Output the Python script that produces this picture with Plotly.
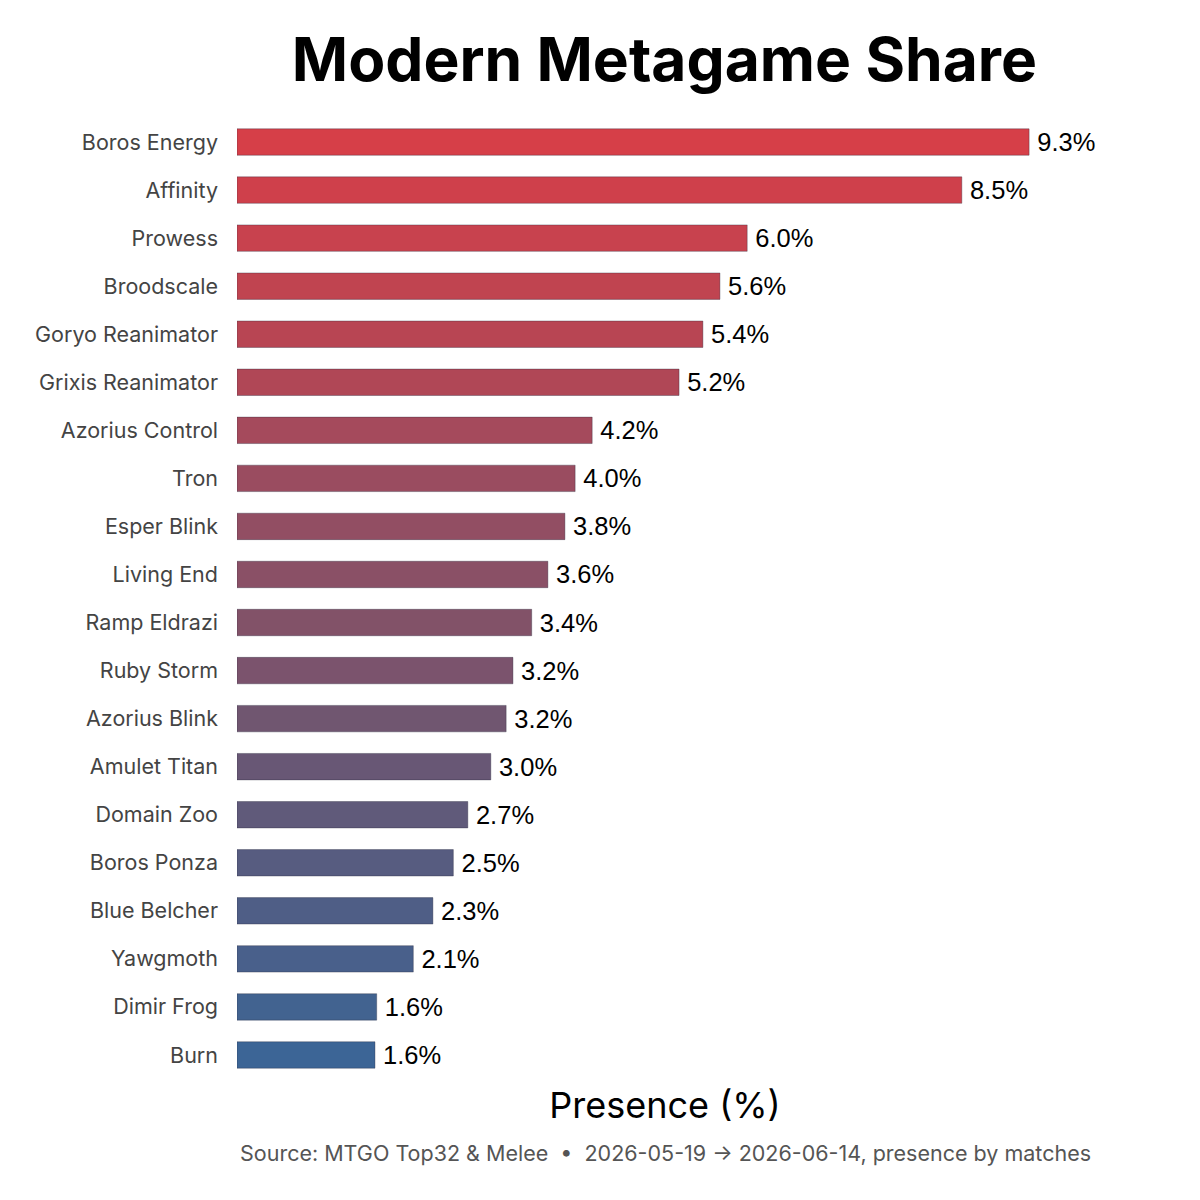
import plotly.graph_objects as go

# deck names and presence share (%)
decks = [
    "Boros Energy", "Affinity", "Prowess", "Broodscale", "Goryo Reanimator",
    "Grixis Reanimator", "Azorius Control", "Tron", "Esper Blink", "Living End",
    "Ramp Eldrazi", "Ruby Storm", "Azorius Blink", "Amulet Titan", "Domain Zoo",
    "Boros Ponza", "Blue Belcher", "Yawgmoth", "Dimir Frog", "Burn",
]
presence = [
    9.30, 8.51, 5.99, 5.67, 5.47,
    5.19, 4.17, 3.97, 3.85, 3.65,
    3.46, 3.24, 3.16, 2.98, 2.71,
    2.54, 2.30, 2.07, 1.64, 1.62,
]
labels = ["9.3%", "8.5%", "6.0%", "5.6%", "5.4%",
          "5.2%", "4.2%", "4.0%", "3.8%", "3.6%",
          "3.4%", "3.2%", "3.2%", "3.0%", "2.7%",
          "2.5%", "2.3%", "2.1%", "1.6%", "1.6%"]

# red -> blue ramp, one colour per rank
bar_colors = [
    "#d63f48", "#cf404b", "#c8424e", "#c04450", "#b84553",
    "#b04756", "#a54a5c", "#9a4c60", "#924e63", "#8a5066",
    "#825268", "#7b536d", "#705670", "#685775", "#605a7a",
    "#575c80", "#4f5e86", "#49608b", "#426390", "#3c6596",
]

fig = go.Figure(
    go.Bar(
        x=presence,
        y=decks,
        orientation="h",
        width=0.55,
        marker_color=bar_colors,
        marker_line_color="rgba(40,40,60,0.35)",
        marker_line_width=1,
        text=labels,
        texttemplate="\u2009%{text}",
        textposition="outside",
        constraintext="none",
        textfont=dict(family="Liberation Sans, Arial", size=25.5, color="black"),
        cliponaxis=False,
        showlegend=False,
    )
)

fig.update_xaxes(
    range=[0, 10.05],
    showgrid=False,
    zeroline=False,
    showticklabels=False,
    title_text="Presence (%)",
    title_font=dict(family="Inter", size=36, color="black"),
    title_standoff=13,
)
fig.update_yaxes(
    autorange="reversed",
    showgrid=False,
    ticks="",
    ticklabelstandoff=18,
    tickfont=dict(family="Inter", size=21.5, color="#444444"),
)

fig.add_annotation(
    text="Source: MTGO Top32 & Melee  •  2026-05-19 → 2026-06-14, presence by matches",
    xref="paper", yref="paper",
    x=0.5, y=-0.077,
    xanchor="center", yanchor="middle",
    showarrow=False,
    font=dict(family="Inter", size=21.5, color="#555555"),
)

fig.update_layout(
    width=1200,
    height=1200,
    title=dict(
        text="<b>Modern Metagame Share</b>",
        x=0.547, xanchor="center",
        y=0.9567, yanchor="middle",
        font=dict(family="Inter", size=60.5, color="black"),
    ),
    margin=dict(l=229, r=115, t=110, b=129),
    plot_bgcolor="white",
    paper_bgcolor="white",
    bargap=0.45,
)

fig.write_html("out.html")
